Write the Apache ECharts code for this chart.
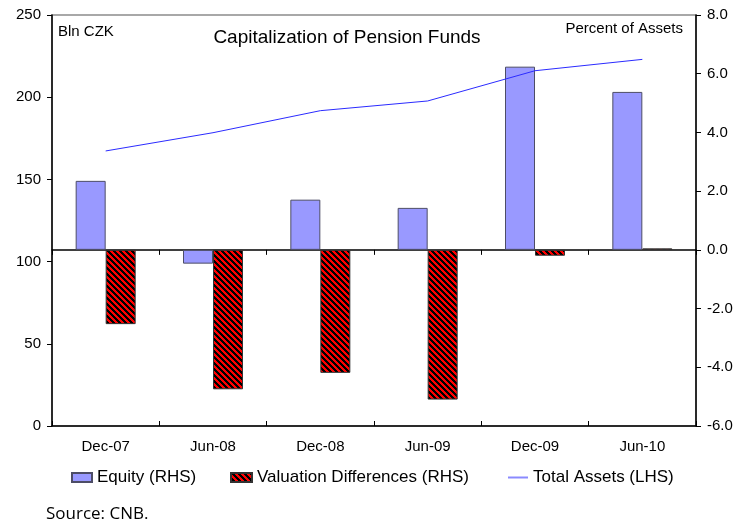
<!DOCTYPE html>
<html>
<head>
<meta charset="utf-8">
<script src="https://cdn.jsdelivr.net/npm/echarts@6/dist/echarts.min.js"></script>
<style>
  html, body { margin: 0; padding: 0; background: #fff; }
  #chart { width: 746px; height: 525px; }
</style>
</head>
<body>
<div id="chart"></div>
<script>
// Pension fund capitalization, half-yearly
const categories = ['Dec-07', 'Jun-08', 'Dec-08', 'Jun-09', 'Dec-09', 'Jun-10'];
const equityPct = [2.35, -0.47, 1.71, 1.43, 6.24, 5.38];          // % of assets (RHS)
const valuationDiffPct = [-2.53, -4.75, -4.19, -5.10, -0.20, 0.05]; // % of assets (RHS)
const totalAssets = [167.3, 178.4, 191.8, 197.7, 216.1, 223.0];     // bln CZK (LHS)

const leftTicks = { min: 0, max: 250, interval: 50 };
const rightTicks = { min: -6, max: 8, interval: 2 };

const FONT = 'Liberation Sans, Arial, sans-serif';

// Red tile with black diagonal hatching for the valuation bars
function hatchTile() {
  const size = 6;
  const c = document.createElement('canvas');
  c.width = size; c.height = size;
  const ctx = c.getContext('2d');
  const img = ctx.createImageData(size, size);
  for (let y = 0; y < size; y++) {
    for (let x = 0; x < size; x++) {
      const k = ((x - y) % size + size) % size;
      const i = (y * size + x) * 4;
      if (k < 3) { img.data[i] = 0; img.data[i + 1] = 0; img.data[i + 2] = 0; }
      else { img.data[i] = 255; img.data[i + 1] = 0; img.data[i + 2] = 0; }
      img.data[i + 3] = 255;
    }
  }
  ctx.putImageData(img, 0, 0);
  return c;
}
const hatch = { image: hatchTile(), repeat: 'repeat' };

const chart = echarts.init(document.getElementById('chart'), null, { renderer: 'canvas' });

const legendText = { fontFamily: FONT, fontSize: 17, color: '#000' };

chart.setOption({
  animation: false,
  backgroundColor: '#fff',
  grid: {
    left: 52, right: 50, top: 15, bottom: 99,
    show: true, borderColor: '#8c8c8c', borderWidth: 1.5, backgroundColor: 'transparent'
  },
  legend: [
    {
      left: 71, top: 469, padding: 0, itemWidth: 20, itemHeight: 9, itemGap: 0,
      textStyle: legendText,
      data: [{ name: 'Equity (RHS)', icon: 'rect' }]
    },
    {
      left: 230, top: 469, padding: 0, itemWidth: 21, itemHeight: 9, itemGap: 0,
      textStyle: legendText,
      data: [{ name: 'Valuation Differences (RHS)', icon: 'rect' }]
    },
    {
      left: 508, top: 469, padding: 0, itemWidth: 20, itemHeight: 2, itemGap: 0,
      textStyle: legendText,
      data: [{ name: 'Total Assets (LHS)', icon: 'rect', itemStyle: { color: '#8a8aff' } }]
    }
  ],
  xAxis: [
    {
      type: 'category',
      data: categories,
      position: 'bottom',
      boundaryGap: true,
      axisLine: { onZero: false, lineStyle: { color: '#000', width: 1.5 } },
      axisTick: { show: true, inside: true, length: 5, lineStyle: { color: '#000' } },
      axisLabel: { fontFamily: FONT, fontSize: 15, color: '#000', margin: 13 },
      splitLine: { show: false }
    },
    {
      // zero line of the percentage scale
      type: 'category',
      data: categories,
      position: 'bottom',
      boundaryGap: true,
      axisLine: { onZero: true, onZeroAxisIndex: 1, lineStyle: { color: '#000', width: 1.5 } },
      axisTick: { show: true, inside: false, length: 5, lineStyle: { color: '#000' } },
      axisLabel: { show: false },
      splitLine: { show: false }
    }
  ],
  yAxis: [
    {
      type: 'value',
      position: 'left',
      min: leftTicks.min, max: leftTicks.max, interval: leftTicks.interval,
      axisLine: { show: true, lineStyle: { color: '#000', width: 1.5 } },
      axisTick: { show: true, length: 5, lineStyle: { color: '#000' } },
      axisLabel: { fontFamily: FONT, fontSize: 15, color: '#000', margin: 11 },
      splitLine: { show: false }
    },
    {
      type: 'value',
      position: 'right',
      min: rightTicks.min, max: rightTicks.max, interval: rightTicks.interval,
      axisLine: { show: true, lineStyle: { color: '#000', width: 1.5 } },
      axisTick: { show: true, length: 5, lineStyle: { color: '#000' } },
      axisLabel: {
        fontFamily: FONT, fontSize: 15, color: '#000', margin: 11,
        formatter: v => v.toFixed(1)
      },
      splitLine: { show: false }
    }
  ],
  series: [
    {
      name: 'Equity (RHS)',
      type: 'bar',
      xAxisIndex: 0, yAxisIndex: 1,
      data: equityPct,
      barWidth: 30,
      barGap: '0%',
      itemStyle: { color: '#9999ff', borderColor: '#4d4d66', borderWidth: 1 }
    },
    {
      name: 'Valuation Differences (RHS)',
      type: 'bar',
      xAxisIndex: 0, yAxisIndex: 1,
      data: valuationDiffPct,
      barWidth: 30,
      barGap: '0%',
      itemStyle: { color: hatch, borderColor: '#333', borderWidth: 1 }
    },
    {
      name: 'Total Assets (LHS)',
      type: 'line',
      xAxisIndex: 0, yAxisIndex: 0,
      data: totalAssets,
      symbol: 'none',
      z: 5,
      lineStyle: { color: '#2b2bff', width: 1 },
      itemStyle: { color: '#2b2bff' }
    }
  ],
  graphic: [
    {
      type: 'text', x: 347, y: 38,
      style: {
        text: 'Capitalization of Pension Funds', font: '19px ' + FONT,
        fill: '#000', textAlign: 'center', textVerticalAlign: 'middle'
      }
    },
    {
      type: 'text', x: 58, y: 32,
      style: {
        text: 'Bln CZK', font: '15px ' + FONT,
        fill: '#000', textAlign: 'left', textVerticalAlign: 'middle'
      }
    },
    {
      type: 'text', x: 683, y: 29,
      style: {
        text: 'Percent of Assets', font: '15px ' + FONT,
        fill: '#000', textAlign: 'right', textVerticalAlign: 'middle'
      }
    },
    {
      type: 'text', x: 46, y: 514,
      style: {
        text: 'Source: CNB.', font: '17px "Open Sans", sans-serif',
        fill: '#000', textAlign: 'left', textVerticalAlign: 'middle'
      }
    }
  ]
});
</script>
</body>
</html>
